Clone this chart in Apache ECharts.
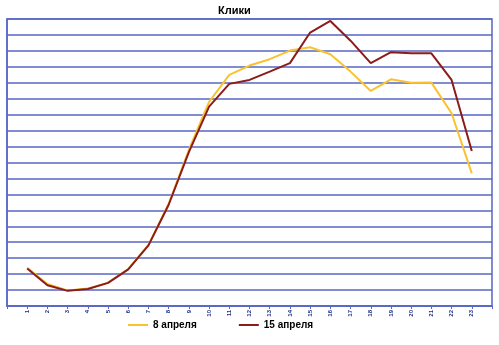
<!DOCTYPE html>
<html>
<head>
<meta charset="utf-8">
<script src="https://cdn.jsdelivr.net/npm/echarts@6/dist/echarts.min.js"></script>
<style>
  html, body { margin: 0; padding: 0; background: #fff; }
  #chart { width: 499px; height: 345px; }
</style>
</head>
<body>
<div id="chart"></div>
<script>
// Hours of the day
var hours = [1, 2, 3, 4, 5, 6, 7, 8, 9, 10, 11, 12, 13, 14, 15, 16, 17, 18, 19, 20, 21, 22, 23];
// Clicks per hour (in grid units)
var april8 = [2.4, 1.38, 0.98, 1.09, 1.46, 2.32, 3.83, 6.4, 9.8, 12.8, 14.5, 15.08, 15.48, 16.02, 16.23, 15.79, 14.7, 13.49, 14.22, 14.0, 14.01, 12.09, 8.32];
var april15 = [2.35, 1.3, 0.95, 1.07, 1.45, 2.3, 3.8, 6.35, 9.65, 12.5, 13.93, 14.18, 14.7, 15.23, 17.15, 17.88, 16.64, 15.23, 15.92, 15.85, 15.85, 14.18, 9.72];
var seriesNames = ['8 апреля', '15 апреля'];

function pairs(vals) {
  return hours.map(function (h, i) { return [h, vals[i]]; });
}

var gridBlue = '#5767c4';
var chart = echarts.init(document.getElementById('chart'), null, { renderer: 'canvas' });
chart.setOption({
  animation: false,
  backgroundColor: '#ffffff',
  title: {
    text: 'Клики',
    left: 213, top: 0,
    textStyle: { fontFamily: 'Liberation Sans', fontSize: 11, fontWeight: 'bold', color: '#000' }
  },
  legend: {
    bottom: 10, left: 123,
    itemWidth: 20, itemHeight: 2, itemGap: 42,
    icon: 'rect',
    textStyle: { fontFamily: 'Liberation Sans', fontSize: 10, fontWeight: 'bold', color: '#000' },
    data: seriesNames
  },
  grid: {
    left: 7, right: 7, top: 19, bottom: 39,
    show: true, borderColor: gridBlue, borderWidth: 1.5
  },
  xAxis: {
    type: 'value', min: 0, max: 24, interval: 1,
    splitLine: { show: false },
    axisLine: { lineStyle: { color: gridBlue, width: 1.5 } },
    axisTick: { show: true, length: 3, lineStyle: { color: gridBlue } },
    axisLabel: {
      rotate: 90, fontSize: 6, color: '#1f2f80', margin: 4,
      fontFamily: 'Liberation Sans', fontWeight: 'bold',
      formatter: function (v) { return (v >= 1 && v <= 23) ? String(v) : ''; }
    }
  },
  yAxis: {
    type: 'value', min: 0, max: 18, interval: 1,
    axisLabel: { show: false },
    axisTick: { show: false },
    axisLine: { show: true, lineStyle: { color: gridBlue, width: 1.5 } },
    splitLine: { lineStyle: { color: gridBlue, width: 1.5 } }
  },
  series: [
    {
      name: seriesNames[0], type: 'line', data: pairs(april8),
      showSymbol: false, color: '#f9c22e',
      lineStyle: { width: 2, color: '#f9c22e' }
    },
    {
      name: seriesNames[1], type: 'line', data: pairs(april15),
      showSymbol: false, color: '#8b1c1c',
      lineStyle: { width: 2, color: '#8b1c1c' }
    }
  ]
});
</script>
</body>
</html>
